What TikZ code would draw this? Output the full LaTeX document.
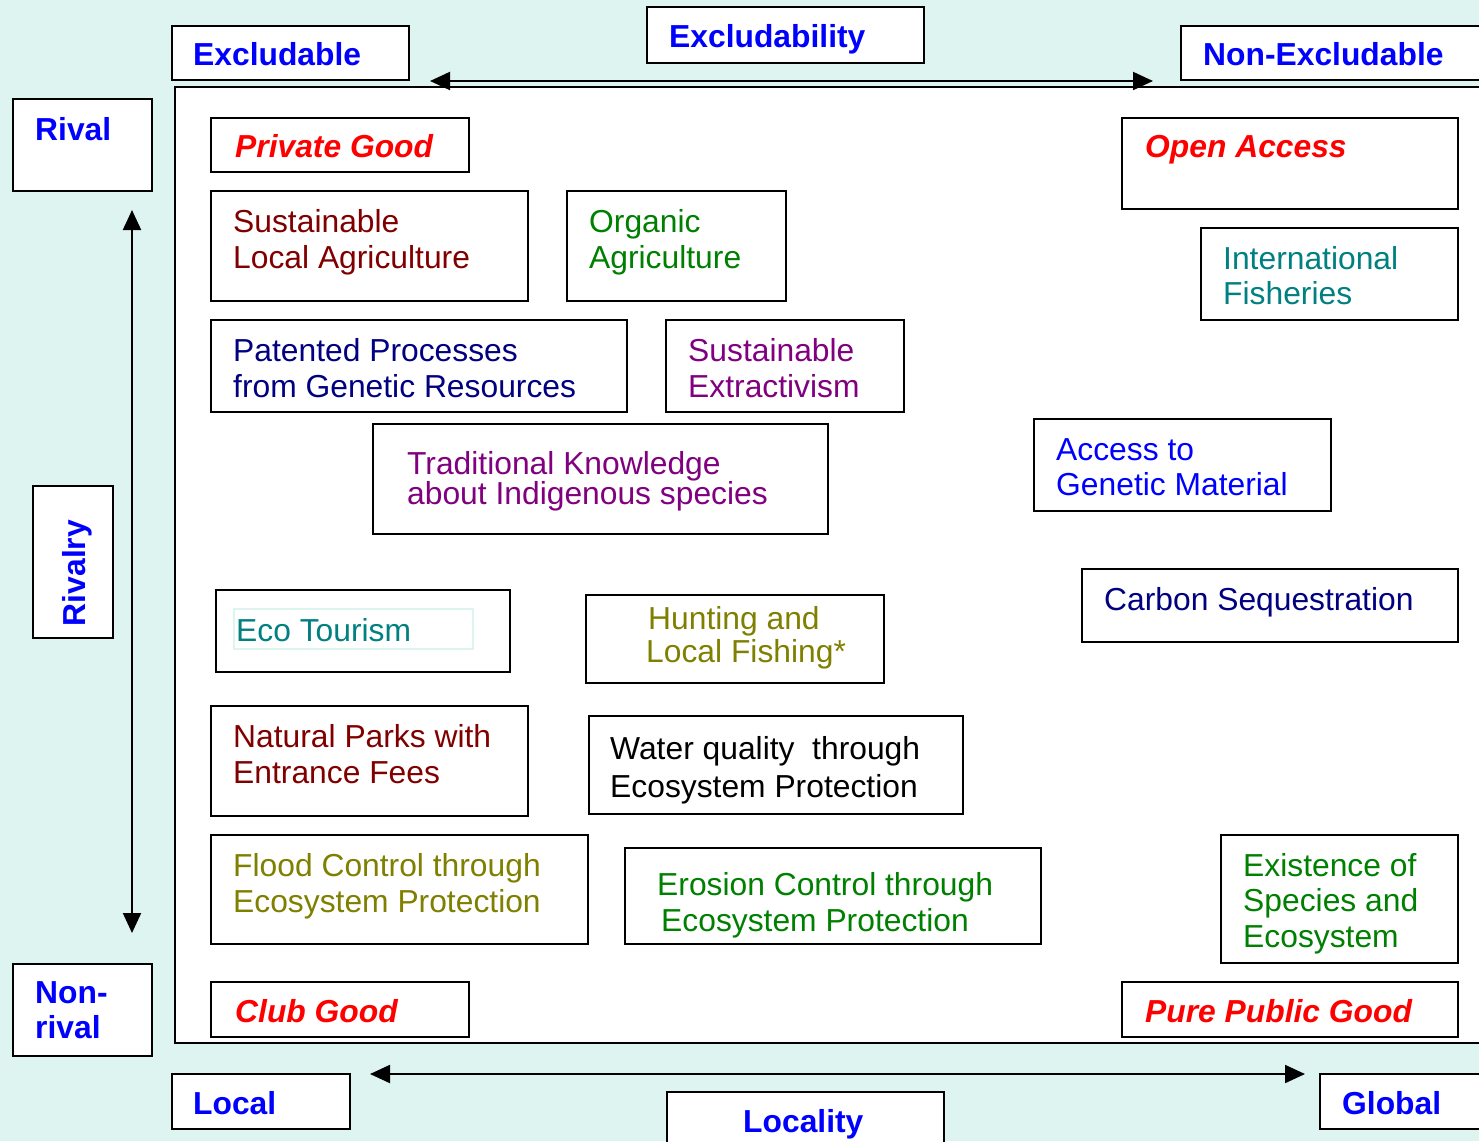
\documentclass[tikz,border=0pt]{standalone}
\usepackage{fontspec}
\setmainfont{Liberation Sans}
\usetikzlibrary{arrows.meta}
\definecolor{bgc}{RGB}{221,244,240}
\definecolor{hblue}{RGB}{0,0,255}
\definecolor{hred}{RGB}{255,0,0}
\definecolor{dred}{RGB}{128,0,0}
\definecolor{dgreen}{RGB}{0,128,0}
\definecolor{navy}{RGB}{0,0,128}
\definecolor{purp}{RGB}{128,0,128}
\definecolor{teal}{RGB}{0,128,128}
\definecolor{olive}{RGB}{128,128,0}
\newcommand\mlines[2][36pt]{\vtop{\baselineskip=#1\relax\lineskiplimit=-100pt\relax\let\\\cr\halign{##\hfil\cr#2\crcr}}}
\tikzset{
  box/.style={draw=black, line width=2pt, fill=white, rectangle, inner sep=0pt, outer sep=0pt, anchor=north west},
  txt/.style={inner sep=0pt, anchor=base west, font=\fontsize{31.8}{36}\selectfont},
  hdr/.style={txt, font=\fontsize{31.8}{36}\selectfont\bfseries, text=hblue},
  lbl/.style={txt, font=\fontsize{31.8}{36}\selectfont\bfseries\itshape, text=hred},
  axis/.style={line width=2pt, {Triangle[length=20pt,width=18pt]}-{Triangle[length=20pt,width=18pt]}}
}
\begin{document}
\begin{tikzpicture}[x=1pt,y=-1pt]
\useasboundingbox (0,0) rectangle (1479,1141);
\clip (0,0) rectangle (1479,1141);
\fill[bgc] (0,0) rectangle (1479,1141);
% main field
\node[box, minimum width=1325pt, minimum height=956pt] (main) at (175,87) {};
% axes
\coordinate (exL) at (430,81);
\coordinate (exR) at (1153,81);
\coordinate (rvT) at (132,210);
\coordinate (rvB) at (132,933);
\coordinate (loL) at (370,1074);
\coordinate (loR) at (1305,1074);
\draw[axis] (exL) -- (exR);
\draw[axis] (rvT) -- (rvB);
\draw[axis] (loL) -- (loR);
% axis label boxes
\node[box, minimum width=237pt, minimum height=54pt] (bExcl) at (172,26) {};
\node[hdr] (tExcl) at (193,65) {Excludable};
\node[box, minimum width=277pt, minimum height=56pt] (bExty) at (647,7) {};
\node[hdr] (tExty) at (669,47) {Excludability};
\node[box, minimum width=319pt, minimum height=54pt] (bNonEx) at (1181,26) {};
\node[hdr] (tNonEx) at (1203,65) {Non-Excludable};
\node[box, minimum width=139pt, minimum height=92pt] (bRival) at (13,99) {};
\node[hdr] (tRival) at (35,140) {Rival};
\node[box, minimum width=80pt, minimum height=152pt] (bRivalry) at (33,486) {};
\node[hdr, anchor=base, rotate=90] (tRivalry) at (85,573) {Rivalry};
\node[box, minimum width=139pt, minimum height=92pt] (bNonriv) at (13,964) {};
\node[hdr] (tNonriv) at (35,1003) {\mlines[35pt]{Non-\\rival}};
\node[box, minimum width=178pt, minimum height=55pt] (bLocal) at (172,1074) {};
\node[hdr] (tLocal) at (193,1114) {Local};
\node[box, minimum width=277pt, minimum height=68pt] (bLocality) at (667,1092) {};
\node[hdr] (tLocality) at (743,1132) {Locality};
\node[box, minimum width=180pt, minimum height=55pt] (bGlobal) at (1320,1074) {};
\node[hdr] (tGlobal) at (1342,1114) {Global};
% corner labels
\node[box, minimum width=258pt, minimum height=54pt] (bPriv) at (211,118) {};
\node[lbl] (tPriv) at (235,157) {Private Good};
\node[box, minimum width=336pt, minimum height=91pt] (bOpen) at (1122,118) {};
\node[lbl] (tOpen) at (1145,157) {Open Access};
\node[box, minimum width=258pt, minimum height=55pt] (bClub) at (211,982) {};
\node[lbl] (tClub) at (235,1022) {Club Good};
\node[box, minimum width=336pt, minimum height=55pt] (bPure) at (1122,982) {};
\node[lbl] (tPure) at (1145,1022) {Pure Public Good};
% goods
\node[box, minimum width=317pt, minimum height=110pt] (bSLA) at (211,191) {};
\node[txt, text=dred] (tSLA) at (233,232) {\mlines{Sustainable\\Local Agriculture}};
\node[box, minimum width=219pt, minimum height=110pt] (bOrg) at (567,191) {};
\node[txt, text=dgreen] (tOrg) at (589,232) {\mlines{Organic\\Agriculture}};
\node[box, minimum width=416pt, minimum height=92pt] (bPat) at (211,320) {};
\node[txt, text=navy] (tPat) at (233,361) {\mlines{Patented Processes\\from Genetic Resources}};
\node[box, minimum width=238pt, minimum height=92pt] (bExt) at (666,320) {};
\node[txt, text=purp] (tExt) at (688,361) {\mlines{Sustainable\\Extractivism}};
\node[box, minimum width=455pt, minimum height=110pt] (bTK) at (373,424) {};
\node[txt, text=purp] (tTK) at (407,474) {\mlines[30pt]{Traditional Knowledge\\about Indigenous species}};
\node[box, minimum width=294pt, minimum height=82pt] (bEco) at (216,590) {};
\node[box, draw=bgc, line width=1.5pt, minimum width=239pt, minimum height=40pt] (bEcoIn) at (234,609) {};
\node[txt, text=teal] (tEco) at (236,641) {Eco Tourism};
\node[box, minimum width=298pt, minimum height=88pt] (bHunt) at (586,595) {};
\node[txt, text=olive] (tHunt) at (646,629) {\mlines[33pt]{\hspace{2pt}Hunting and\\Local Fishing*}};
\node[box, minimum width=317pt, minimum height=110pt] (bNat) at (211,706) {};
\node[txt, text=dred] (tNat) at (233,747) {\mlines{Natural Parks with\\Entrance Fees}};
\node[box, minimum width=374pt, minimum height=98pt] (bWat) at (589,716) {};
\node[txt, text=black] (tWat) at (610,759) {\mlines[38pt]{Water quality\ \ through\\Ecosystem Protection}};
\node[box, minimum width=377pt, minimum height=109pt] (bFlood) at (211,835) {};
\node[txt, text=olive] (tFlood) at (233,876) {\mlines{Flood Control through\\Ecosystem Protection}};
\node[box, minimum width=416pt, minimum height=96pt] (bEro) at (625,848) {};
\node[txt, text=dgreen] (tEro) at (657,895) {\mlines{Erosion Control through\\\hspace{4pt}Ecosystem Protection}};
\node[box, minimum width=257pt, minimum height=92pt] (bIntl) at (1201,228) {};
\node[txt, text=teal] (tIntl) at (1223,269) {\mlines[35pt]{International\\Fisheries}};
\node[box, minimum width=297pt, minimum height=92pt] (bAcc) at (1034,419) {};
\node[txt, text=hblue] (tAcc) at (1056,460) {\mlines[35pt]{Access to\\Genetic Material}};
\node[box, minimum width=376pt, minimum height=73pt] (bCarb) at (1082,569) {};
\node[txt, text=navy] (tCarb) at (1104,610) {Carbon Sequestration};
\node[box, minimum width=237pt, minimum height=128pt] (bExist) at (1221,835) {};
\node[txt, text=dgreen] (tExist) at (1243,876) {\mlines[35.5pt]{Existence of\\Species and\\Ecosystem}};
\end{tikzpicture}
\end{document}
